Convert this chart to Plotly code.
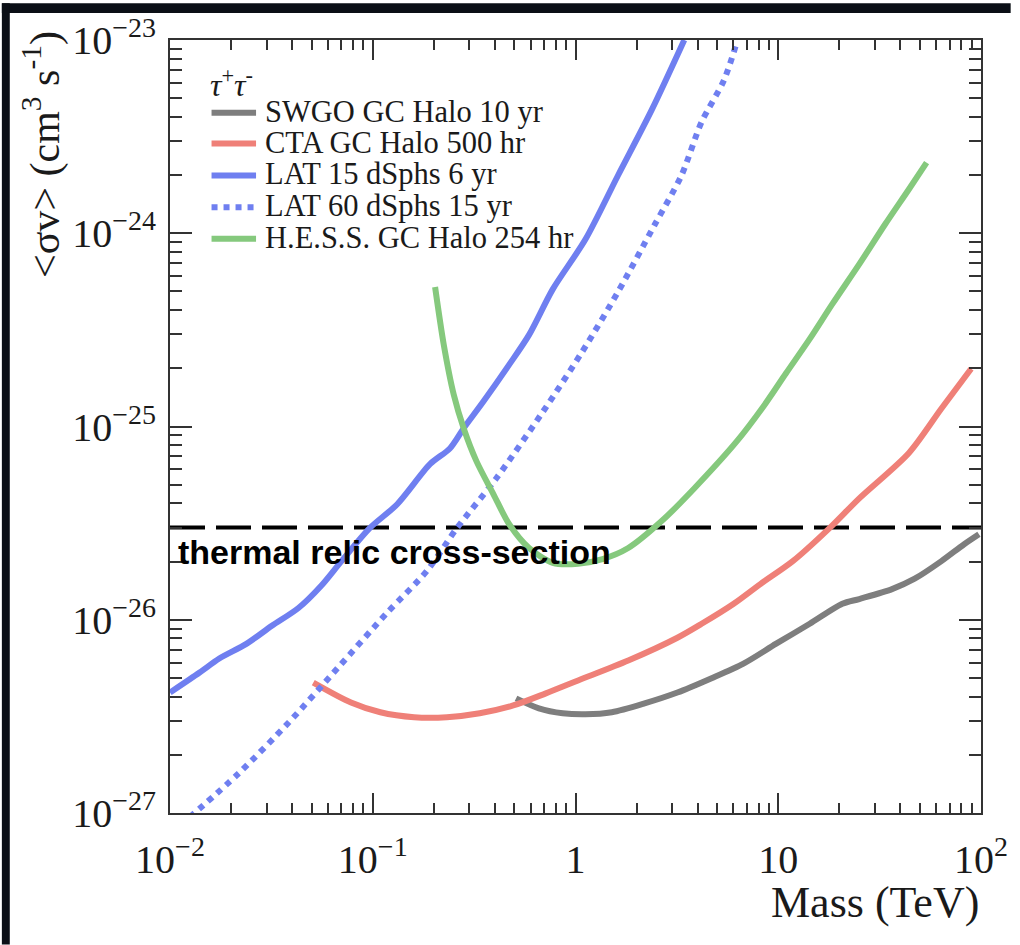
import plotly.graph_objects as go

# ---------------- data (Mass in TeV, <sigma v> in cm^3 s^-1) ----------------
swgo_mass = [0.509, 0.66, 0.865, 1.12, 1.51, 2.19, 3.18, 4.66, 6.74, 9.77, 14.3, 20.7, 25.1, 36.4, 47.1, 63.8, 82.6, 97.7]
swgo_sv = [3.92e-27, 3.48e-27, 3.28e-27, 3.24e-27, 3.32e-27, 3.69e-27, 4.2e-27, 4.97e-27, 5.93e-27, 7.52e-27,
           9.53e-27, 1.21e-26, 1.28e-26, 1.44e-26, 1.63e-26, 2.01e-26, 2.46e-26, 2.77e-26]

cta_mass = [0.0509, 0.0781, 0.109, 0.160, 0.232, 0.337, 0.493, 0.714, 1.03, 1.82, 3.18, 4.17, 6.03, 8.16,
            11.8, 17.9, 25.1, 44.1, 63.8, 89.4]
cta_sv = [4.73e-27, 3.73e-27, 3.32e-27, 3.13e-27, 3.13e-27, 3.28e-27, 3.6e-27, 4.16e-27, 4.85e-27, 6.15e-27,
          8.07e-27, 9.5e-27, 1.21e-26, 1.53e-26, 2.01e-26, 2.98e-26, 4.25e-26, 7.3e-26, 1.24e-25, 1.99e-25]

lat15_mass = [0.01, 0.014, 0.0175, 0.0238, 0.0318, 0.043, 0.0557, 0.0698, 0.0966, 0.132, 0.192, 0.24, 0.281,
              0.352, 0.471, 0.59, 0.773, 1.12, 1.62, 2.38, 3.44]
lat15_sv = [4.2e-27, 5.33e-27, 6.3e-27, 7.5e-27, 9.3e-27, 1.15e-26, 1.5e-26, 2.0e-26, 2.98e-26, 3.96e-26,
            6.4e-26, 7.7e-26, 9.8e-26, 1.35e-25, 2.09e-25, 2.98e-25, 5.14e-25, 9.3e-25, 1.99e-24, 4.36e-24, 1.0e-23]

lat60_mass = [0.0125, 0.0219, 0.0385, 0.0675, 0.118, 0.185, 0.26, 0.407, 0.69, 1.08, 1.62, 2.45, 3.33, 4.17,
              5.4, 6.24]
lat60_sv = [9.5e-28, 1.61e-27, 2.94e-27, 5.66e-27, 1.09e-26, 1.79e-26, 2.98e-26, 5.4e-26, 1.19e-25, 2.44e-25,
            4.97e-25, 1.1e-24, 1.99e-24, 3.73e-24, 6.2e-24, 9.7e-24]

hess_mass = [0.203, 0.224, 0.251, 0.281, 0.325, 0.394, 0.471, 0.59, 0.773, 1.03, 1.36, 1.82, 2.66, 3.85,
             6.24, 8.45, 10.9, 14.3, 18.5, 25.1, 33.6, 44.1, 53.9]
hess_sv = [5.27e-25, 2.65e-25, 1.46e-25, 9.77e-26, 6.6e-26, 4.46e-26, 3.12e-26, 2.35e-26, 1.97e-26, 1.95e-26,
           2.06e-26, 2.35e-26, 3.24e-26, 4.78e-26, 8.37e-26, 1.27e-25, 1.88e-25, 2.84e-25, 4.31e-25, 6.92e-25,
           1.11e-24, 1.69e-24, 2.32e-24]

thermal_mass = [0.01, 100]
thermal_sv = [3.0e-26, 3.0e-26]

series_names = ["SWGO GC Halo 10 yr", "CTA GC Halo 500 hr", "LAT 15 dSphs 6 yr",
                "LAT 60 dSphs 15 yr", "H.E.S.S. GC Halo 254 hr"]
series_colors = ["#7e7e7e", "#ef8078", "#6f7ff0", "#6f7ff0", "#85c97d"]
series_dash = ["solid", "solid", "solid", "6px,6px", "solid"]

x_tickvals = [0.01, 0.1, 1, 10, 100]
x_ticktext = ["10<sup>−2</sup>", "10<sup>−1</sup>", "1", "10", "10<sup>2</sup>"]
y_tickvals = [1e-27, 1e-26, 1e-25, 1e-24, 1e-23]
y_ticktext = ["10<sup>−27</sup>", "10<sup>−26</sup>", "10<sup>−25</sup>", "10<sup>−24</sup>", "10<sup>−23</sup>"]

SERIF = "Liberation Serif, Times New Roman, serif"
SANS = "Liberation Sans, Arial, sans-serif"

# ---------------- figure geometry ----------------
W, H = 1020, 945
PLOT_L, PLOT_R, PLOT_T, PLOT_B = 170, 990, 37, 813
ML, MR, MT, MB = PLOT_L, W - PLOT_R, PLOT_T, H - PLOT_B
PW, PH = PLOT_R - PLOT_L, PLOT_B - PLOT_T


def px_x(p):
    return (p - PLOT_L) / PW


def px_y(p):
    return (PLOT_B - p) / PH


fig = go.Figure()

xs = [swgo_mass, cta_mass, lat15_mass, lat60_mass, hess_mass]
ys = [swgo_sv, cta_sv, lat15_sv, lat60_sv, hess_sv]

fig.add_trace(go.Scatter(x=thermal_mass, y=thermal_sv, mode="lines", showlegend=False,
                         line=dict(color="black", width=4, dash="35px,11px"), hoverinfo="skip"))

for name, x, y, c, d in zip(series_names, xs, ys, series_colors, series_dash):
    fig.add_trace(go.Scatter(x=x, y=y, mode="lines", name=name, showlegend=False,
                             line=dict(color=c, width=6, dash=d, shape="spline", smoothing=0.8)))

minor_x = [m * 10 ** k for k in range(-2, 2) for m in range(2, 10)]
minor_y = [m * 10.0 ** k for k in range(-27, -23) for m in range(2, 10)]

axis_common = dict(type="log", showgrid=False, zeroline=False, showline=True, linecolor="#333333",
                   linewidth=2, mirror="ticks", ticks="inside", tickcolor="#333333", tickwidth=2,
                   tickmode="array")

fig.update_xaxes(**axis_common, range=[-2, 2], tickvals=x_tickvals, ticktext=x_ticktext, ticklen=20,
                 tickfont=dict(family=SERIF, size=40, color="#1a1a1a"), ticklabelstandoff=10,
                 minor=dict(tickvals=minor_x, ticks="inside", ticklen=10, tickcolor="#333333", tickwidth=2))
fig.update_yaxes(**axis_common, range=[-27, -23], tickvals=y_tickvals, ticktext=y_ticktext, ticklen=22,
                 tickfont=dict(family=SERIF, size=40, color="#1a1a1a"), ticklabelstandoff=4,
                 minor=dict(tickvals=minor_y, ticks="inside", ticklen=12, tickcolor="#333333", tickwidth=2))

annotations = []
shapes = []

# screenshot frame (dark bands on top and left)
shapes.append(dict(type="rect", xref="paper", yref="paper", x0=px_x(0), x1=px_x(W), y0=px_y(10), y1=px_y(0),
                   fillcolor="#0b0f16", line=dict(width=0), layer="above"))
shapes.append(dict(type="rect", xref="paper", yref="paper", x0=px_x(0), x1=px_x(8), y0=px_y(H), y1=px_y(0),
                   fillcolor="#0b0f16", line=dict(width=0), layer="above"))

# legend (drawn manually to match the original compact row spacing)
annotations.append(dict(xref="paper", yref="paper", x=px_x(208), y=px_y(80), xanchor="left", yanchor="middle",
                        text="<i>τ</i><sup>+</sup><i>τ</i><sup>-</sup>", showarrow=False,
                        font=dict(family=SERIF, size=32, color="#1a1a1a")))
row_y = [110, 141, 173, 205, 236.5]
for name, c, d, ry in zip(series_names, series_colors, series_dash, row_y):
    shapes.append(dict(type="line", xref="paper", yref="paper", x0=px_x(212), x1=px_x(257),
                       y0=px_y(ry), y1=px_y(ry), line=dict(color=c, width=6, dash=d)))
    annotations.append(dict(xref="paper", yref="paper", x=px_x(264), y=px_y(ry - 1), xanchor="left",
                            yanchor="middle", text=name, showarrow=False,
                            font=dict(family=SERIF, size=30.5, color="#1a1a1a")))

# thermal relic label
annotations.append(dict(xref="paper", yref="paper", x=px_x(176), y=px_y(551), xanchor="left", yanchor="middle",
                        text="<b>thermal relic cross-section</b>", showarrow=False,
                        font=dict(family=SANS, size=34, color="black")))

# axis titles
annotations.append(dict(xref="paper", yref="paper", x=1.0, y=px_y(876), xanchor="right", yanchor="top",
                        text="Mass (TeV)", showarrow=False, font=dict(family=SERIF, size=44, color="#1a1a1a")))
annotations.append(dict(xref="paper", yref="paper", x=px_x(40), y=px_y(26), xanchor="center", yanchor="top",
                        text="&lt;σv&gt; (cm<sup>3</sup> s<sup>-1</sup>)", textangle=-90, showarrow=False,
                        font=dict(family=SERIF, size=42, color="#1a1a1a")))

fig.update_layout(width=W, height=H, margin=dict(l=ML, r=MR, t=MT, b=MB, pad=0),
                  paper_bgcolor="white", plot_bgcolor="white", showlegend=False,
                  annotations=annotations, shapes=shapes)

fig.write_html("out.html")
